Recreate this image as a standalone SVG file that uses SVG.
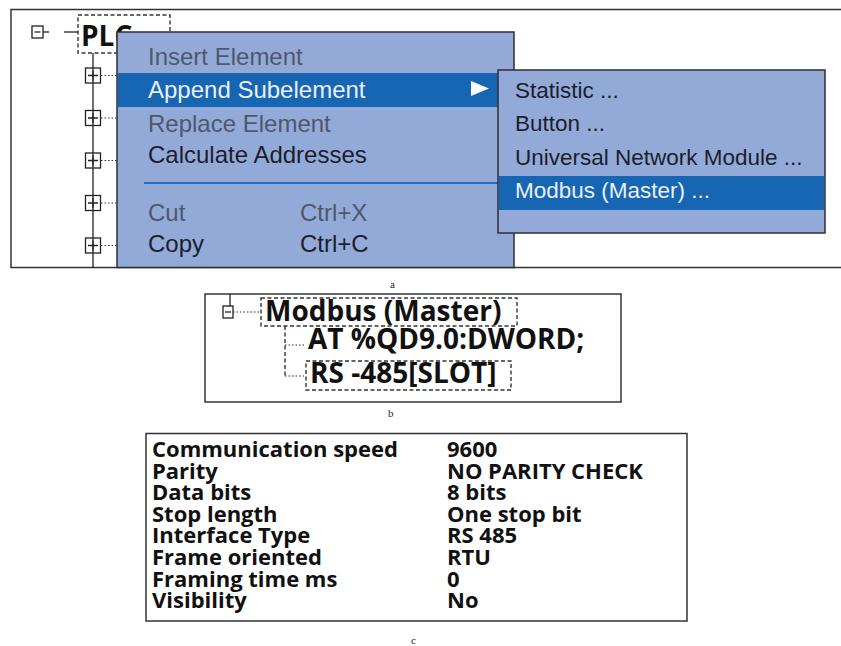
<svg xmlns="http://www.w3.org/2000/svg" width="841" height="646" viewBox="0 0 841 646">
  <style>
    .frame { fill: #ffffff; stroke: #333333; stroke-width: 1.5; }
    .menu { fill: #93aad9; stroke: #2e2e33; stroke-width: 1.5; }
    .hl { fill: #1666b3; }
    .mi { font-family: "Liberation Sans", Arial, sans-serif; font-size: 24px; fill: #1b1e2b; }
    .sub { font-family: "Liberation Sans", Arial, sans-serif; font-size: 22.5px; fill: #1b1e2b; }
    .dis { fill: #4e586c; }
    .sel { fill: #eaf0fa; }
    .tree { fill: none; stroke: #222222; stroke-width: 1.3; }
    .dot { fill: none; stroke: #333333; stroke-width: 1.2; stroke-dasharray: 1.5 2; }
    .dash { fill: none; stroke: #333333; stroke-width: 1.4; stroke-dasharray: 4 2.5; }
    .bold { font-family: "Open Sans", "DejaVu Sans", sans-serif; font-weight: bold; fill: #111111; }
    .cap { font-family: "Liberation Serif", "Times New Roman", serif; font-size: 11px; fill: #222222; }
  </style>

  <!-- (a) project tree with context menu -->
  <g id="panel-a">
    <rect class="frame" x="11" y="9.5" width="845" height="258"/>
    <g id="plc-root">
      <rect class="tree" x="32" y="26" width="11" height="12"/>
      <line class="tree" x1="34.5" y1="32" x2="40.5" y2="32"/>
      <line class="tree" x1="43" y1="32" x2="49" y2="32"/>
      <line class="tree" x1="64" y1="32" x2="78" y2="32"/>
      <rect class="dash" x="78" y="15" width="92" height="38"/>
      <text class="bold" x="81" y="46" font-size="28">PLC</text>
      <line class="tree" x1="93" y1="53" x2="93" y2="268"/>
    </g>
    <g id="tree-children">
      <g id="child-1">
        <rect class="tree" x="85.5" y="68" width="15" height="15" fill="#fff"/>
        <path class="tree" d="M88 75.5 H98 M93 70.5 V80.5"/>
        <line class="dot" x1="101" y1="75.5" x2="117" y2="75.5"/>
      </g>
      <g id="child-2">
        <rect class="tree" x="85.5" y="110.5" width="15" height="15" fill="#fff"/>
        <path class="tree" d="M88 118 H98 M93 113 V123"/>
        <line class="dot" x1="101" y1="118" x2="117" y2="118"/>
      </g>
      <g id="child-3">
        <rect class="tree" x="85.5" y="153" width="15" height="15" fill="#fff"/>
        <path class="tree" d="M88 160.5 H98 M93 155.5 V165.5"/>
        <line class="dot" x1="101" y1="160.5" x2="117" y2="160.5"/>
      </g>
      <g id="child-4">
        <rect class="tree" x="85.5" y="195.5" width="15" height="15" fill="#fff"/>
        <path class="tree" d="M88 203 H98 M93 198 V208"/>
        <line class="dot" x1="101" y1="203" x2="117" y2="203"/>
      </g>
      <g id="child-5">
        <rect class="tree" x="85.5" y="238" width="15" height="15" fill="#fff"/>
        <path class="tree" d="M88 245.5 H98 M93 240.5 V250.5"/>
        <line class="dot" x1="101" y1="245.5" x2="117" y2="245.5"/>
      </g>
    </g>

    <g id="context-menu">
      <rect class="menu" x="117" y="32" width="397" height="235.5"/>
      <rect class="hl" x="117.8" y="73" width="395.5" height="34"/>
      <text class="mi dis" x="148" y="65">Insert Element</text>
      <text class="mi sel" x="148" y="98">Append Subelement</text>
      <polygon points="471,81 471,96 489,88.5" fill="#ffffff"/>
      <text class="mi dis" x="148" y="132">Replace Element</text>
      <text class="mi" x="148" y="163">Calculate Addresses</text>
      <line x1="144" y1="183" x2="514" y2="183" stroke="#1f6fc4" stroke-width="2"/>
      <text class="mi dis" x="148" y="221">Cut</text>
      <text class="mi dis" x="300" y="221">Ctrl+X</text>
      <text class="mi" x="148" y="252">Copy</text>
      <text class="mi" x="300" y="252">Ctrl+C</text>
    </g>

    <g id="submenu">
      <rect class="menu" x="498" y="70" width="327" height="163"/>
      <rect class="hl" x="498.8" y="176" width="325.5" height="34"/>
      <text class="sub" x="515" y="98">Statistic ...</text>
      <text class="sub" x="515" y="131">Button ...</text>
      <text class="sub" x="515" y="164.5">Universal Network Module ...</text>
      <text class="sub sel" x="515" y="198">Modbus (Master) ...</text>
    </g>
    <text class="cap" x="390" y="288">a</text>
  </g>

  <!-- (b) inserted Modbus master node -->
  <g id="panel-b">
    <rect class="frame" x="205" y="294" width="416" height="108"/>
    <g id="modbus-node">
      <line class="tree" x1="230" y1="294" x2="230" y2="306"/>
      <rect class="tree" x="223" y="306" width="10" height="12" fill="#fff"/>
      <line class="tree" x1="225" y1="312" x2="231" y2="312"/>
      <line class="dot" x1="233" y1="312" x2="261" y2="312"/>
      <rect class="dash" x="261" y="298" width="256" height="28"/>
      <text class="bold" x="265" y="321" font-size="28">Modbus (Master)</text>
    </g>
    <g id="connectors">
      <line class="dash" x1="285" y1="326" x2="285" y2="376"/>
      <line class="dot" x1="285" y1="345" x2="306" y2="345"/>
      <line class="dot" x1="285" y1="376" x2="306" y2="376"/>
    </g>
    <g id="address-node">
      <text class="bold" x="308" y="349" font-size="28">AT %QD9.0:DWORD;</text>
    </g>
    <g id="interface-node">
      <rect class="dash" x="306" y="361" width="205" height="29"/>
      <text class="bold" x="310" y="383" font-size="28">RS -485[SLOT]</text>
    </g>
    <text class="cap" x="388" y="417">b</text>
  </g>

  <!-- (c) Modbus master parameters -->
  <g id="panel-c">
    <rect class="frame" x="146" y="433.5" width="541" height="187.5"/>
    <g class="bold" font-size="22">
      <text x="152" y="457">Communication speed</text>
      <text x="152" y="478.6">Parity</text>
      <text x="152" y="500.2">Data bits</text>
      <text x="152" y="521.8">Stop length</text>
      <text x="152" y="543.4">Interface Type</text>
      <text x="152" y="565">Frame oriented</text>
      <text x="152" y="586.6">Framing time ms</text>
      <text x="152" y="608.2">Visibility</text>
      <text x="447" y="457">9600</text>
      <text x="447" y="478.6">NO PARITY CHECK</text>
      <text x="447" y="500.2">8 bits</text>
      <text x="447" y="521.8">One stop bit</text>
      <text x="447" y="543.4">RS 485</text>
      <text x="447" y="565">RTU</text>
      <text x="447" y="586.6">0</text>
      <text x="447" y="608.2">No</text>
    </g>
    <text class="cap" x="411" y="644">c</text>
  </g>
</svg>
